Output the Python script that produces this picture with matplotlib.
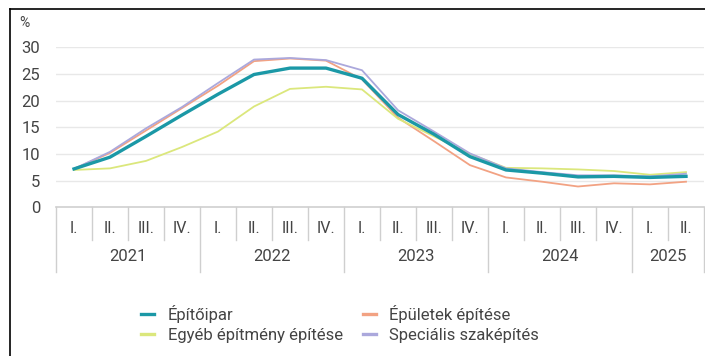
import matplotlib
matplotlib.use("Agg")
import matplotlib.pyplot as plt
from matplotlib.lines import Line2D
from matplotlib.transforms import blended_transform_factory
import numpy as np

plt.rcParams['font.family'] = ['Roboto', 'DejaVu Sans']

years = ["2021", "2022", "2023", "2024", "2025"]
quarters_per_year = [4, 4, 4, 4, 2]
quarter_labels = ["I.", "II.", "III.", "IV."]

epitoipar = [7.2, 9.4, 13.3, 17.3, 21.2, 24.9, 26.1, 26.1, 24.2, 17.4, 13.7, 9.5,
             7.0, 6.4, 5.7, 5.8, 5.6, 5.8]
epuletek = [7.2, 10.2, 14.4, 18.6, 22.8, 27.4, 27.9, 27.5, 24.0, 16.8, 12.4, 7.9,
            5.6, 4.8, 3.9, 4.5, 4.3, 4.8]
egyeb = [7.0, 7.3, 8.7, 11.3, 14.2, 18.9, 22.2, 22.6, 22.1, 16.6, 13.3, 10.0,
         7.4, 7.3, 7.1, 6.8, 6.1, 6.6]
specialis = [7.2, 10.4, 14.8, 18.8, 23.3, 27.7, 28.0, 27.6, 25.7, 18.2, 14.2, 10.1,
             7.3, 6.6, 6.0, 6.0, 5.8, 6.3]

series = [
    ("Épületek építése", epuletek, "#f2a283", 1.3),
    ("Egyéb építmény építése", egyeb, "#dbe77c", 1.3),
    ("Speciális szaképítés", specialis, "#aba8dc", 1.3),
    ("Építőipar", epitoipar, "#1b98a6", 2.4),
]

W, H = 705, 356
fig = plt.figure(figsize=(W / 100, H / 100), dpi=100)
ax = fig.add_axes([56 / W, 1 - 207.3 / H, 648 / W, 160 / H])

n = len(epitoipar)
x = np.arange(n)
lines = {}
for name, vals, color, lw in series:
    ln, = ax.plot(x, vals, color=color, lw=lw, solid_joinstyle='round', zorder=3)
    lines[name] = ln

ax.set_xlim(-0.5, n - 0.5)
ax.set_ylim(0, 30)
ax.set_yticks(range(0, 31, 5))
for y in range(5, 31, 5):
    ax.axhline(y, color="#e8e8e8", lw=1.0, zorder=1)
ax.axhline(0, color="#cfcfcf", lw=1.2, zorder=2, clip_on=False)
for s in ax.spines.values():
    s.set_visible(False)
ax.tick_params(axis='y', length=0, pad=11.5, labelsize=12, labelcolor="#444444")
ax.tick_params(axis='x', length=0, labelbottom=False)
ax.text(-0.056, 1.152, "%", transform=ax.transAxes, ha='left', va='center',
        fontsize=10, color="#444444")

# Two-level category axis: quarters above, years below
tr = blended_transform_factory(ax.transData, ax.transAxes)
sep_color = "#cfcfcf"
pos = 0
for yi, (yr, nq) in enumerate(zip(years, quarters_per_year)):
    for q in range(nq):
        xi = pos + q
        ax.text(xi, -0.13, quarter_labels[q], transform=tr, ha='center', va='center',
                fontsize=11.5, color="#444444")
        if q > 0:
            ax.add_line(Line2D([xi - 0.5, xi - 0.5], [0, -0.205], transform=tr,
                               color=sep_color, lw=1.0, clip_on=False))
    ax.add_line(Line2D([pos - 0.5, pos - 0.5], [0, -0.405], transform=tr,
                       color=sep_color, lw=1.0, clip_on=False))
    ax.text(pos + (nq - 1) / 2, -0.31, yr, transform=tr, ha='center', va='center',
            fontsize=12, color="#444444")
    pos += nq
ax.add_line(Line2D([pos - 0.5, pos - 0.5], [0, -0.405], transform=tr,
                   color=sep_color, lw=1.0, clip_on=False))

# Legend in two columns
order = ["Építőipar", "Egyéb építmény építése", "Épületek építése", "Speciális szaképítés"]
leg = fig.legend([lines[k] for k in order], order, loc='upper left',
                 bbox_to_anchor=(141 / W, 1 - 305 / H), ncol=2, frameon=False,
                 fontsize=12, handlelength=0.8, handletextpad=0.8,
                 columnspacing=1.2, labelspacing=0.3, borderpad=0, borderaxespad=0)
for t in leg.get_texts():
    t.set_color("#444444")
for h in leg.get_lines():
    h.set_linewidth(2.4)

# Outer frame on the top and left edges
fig.add_artist(Line2D([10 / W, 10 / W], [0, 1 - 9 / H], transform=fig.transFigure,
                      color="black", lw=1.2))
fig.add_artist(Line2D([10 / W, 1], [1 - 9 / H, 1 - 9 / H], transform=fig.transFigure,
                      color="black", lw=1.2))

fig.savefig("out.png", dpi=100)
